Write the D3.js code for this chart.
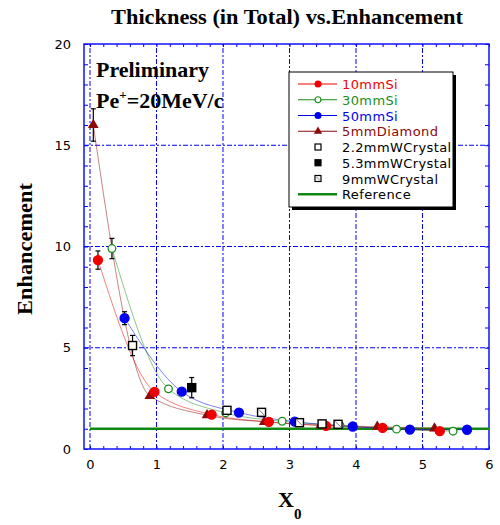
<!DOCTYPE html>
<html>
<head>
<meta charset="utf-8">
<script src="https://cdn.jsdelivr.net/npm/d3@7"></script>
<style>
body { margin: 0; background: #fff; }
</style>
</head>
<body>
<div id="chart"></div>
<script>
var w = 500, h = 525;

// data
var si10X = [0.12, 0.97, 1.83, 2.69, 3.55, 4.40, 5.26];
var si10Y = [9.33, 2.82, 1.70, 1.34, 1.14, 1.04, 0.88];
var si10Err = [0.45, 0, 0, 0, 0, 0, 0];

var si30X = [0.33, 1.18, 2.04, 2.89, 3.76, 4.61, 5.46];
var si30Y = [9.90, 2.97, 1.78, 1.37, 1.16, 0.98, 0.88];
var si30Err = [0.5, 0, 0, 0, 0, 0, 0];

var si50X = [0.52, 1.38, 2.24, 3.08, 3.95, 4.81, 5.67];
var si50Y = [6.46, 2.83, 1.80, 1.35, 1.11, 0.96, 0.95];
var si50Err = [0.32, 0, 0, 0, 0, 0, 0];

var diaX = [0.05, 0.90, 1.76, 2.62, 3.47, 4.32, 5.18];
var diaY = [16.0, 2.62, 1.67, 1.34, 1.18, 1.10, 1.02];
var diaErr = [0.8, 0, 0, 0, 0, 0, 0];

var w22X = [0.64, 2.06, 3.49];
var w22Y = [5.11, 1.91, 1.24];
var w22Err = [0.5, 0, 0];

var w53X = [1.53];
var w53Y = [3.03];
var w53Err = [0.5];

var w9X = [2.58, 3.15, 3.73];
var w9Y = [1.81, 1.30, 1.22];
var w9Err = [0, 0, 0];

var refY = 1;

var xTicks = [0, 1, 2, 3, 4, 5, 6];
var yTicks = [0, 5, 10, 15, 20];
var legendNames = ["10mmSi", "30mmSi", "50mmSi", "5mmDiamond", "2.2mmWCrystal", "5.3mmWCrystal", "9mmWCrystal", "Reference"];

var red = "#ee0000", green = "#1a8c1a", blue = "#0000ee", brown = "#8b0a0a";

var x = d3.scaleLinear().domain([-0.09, 6]).range([84, 489]);
var y = d3.scaleLinear().domain([0, 20]).range([449, 44]);

var svg = d3.select("#chart").append("svg")
    .attr("width", w)
    .attr("height", h);

// grid
var gridX = xTicks.filter(function(d) { return d < 6; });
svg.append("g").selectAll("line")
    .data(gridX).enter().append("line")
    .attr("x1", function(d) { return x(d); })
    .attr("x2", function(d) { return x(d); })
    .attr("y1", y(0)).attr("y2", y(20))
    .attr("stroke", "#0000ff").attr("stroke-width", 1)
    .attr("stroke-dasharray", "5,2,2,2");
svg.append("g").selectAll("line")
    .data([5, 10, 15]).enter().append("line")
    .attr("x1", x.range()[0]).attr("x2", x.range()[1])
    .attr("y1", function(d) { return y(d); })
    .attr("y2", function(d) { return y(d); })
    .attr("stroke", "#0000ff").attr("stroke-width", 1)
    .attr("stroke-dasharray", "5,2,2,2");

// minor ticks, inward on all four sides
var xMinor = d3.range(0, 30.5, 1).map(function(d) { return d / 5; }).filter(function(d) { return d <= 6; });
var yMinor = d3.range(0, 21, 1);
function noLabels(g) { g.selectAll("text").remove(); g.select(".domain").remove(); g.selectAll("line").attr("stroke", "#0000ff"); }
svg.append("g").attr("transform", "translate(0," + y(0) + ")")
    .call(d3.axisBottom(x).tickValues(xMinor).tickSizeInner(-3).tickSizeOuter(0)).call(noLabels);
svg.append("g").attr("transform", "translate(0," + y(20) + ")")
    .call(d3.axisTop(x).tickValues(xMinor).tickSizeInner(-3).tickSizeOuter(0)).call(noLabels);
svg.append("g").attr("transform", "translate(" + x.range()[0] + ",0)")
    .call(d3.axisLeft(y).tickValues(yMinor).tickSizeInner(-4).tickSizeOuter(0)).call(noLabels);
svg.append("g").attr("transform", "translate(" + x.range()[1] + ",0)")
    .call(d3.axisRight(y).tickValues(yMinor).tickSizeInner(-4).tickSizeOuter(0)).call(noLabels);

// tick labels
var xAxis = svg.append("g").attr("transform", "translate(0," + (y(0) + 8) + ")")
    .call(d3.axisBottom(x).tickValues(xTicks).tickSize(0).tickFormat(d3.format("d")));
xAxis.select(".domain").remove();
xAxis.selectAll("text").attr("font-family", "DejaVu Sans").attr("font-size", 13).attr("fill", "#000");
var yAxis = svg.append("g").attr("transform", "translate(" + (x.range()[0] - 10) + ",0)")
    .call(d3.axisLeft(y).tickValues(yTicks).tickSize(0).tickFormat(d3.format("d")));
yAxis.select(".domain").remove();
yAxis.selectAll("text").attr("font-family", "DejaVu Sans").attr("font-size", 13).attr("fill", "#000");

// frame
svg.append("rect")
    .attr("x", x.range()[0]).attr("y", y(20))
    .attr("width", x.range()[1] - x.range()[0])
    .attr("height", y(0) - y(20))
    .attr("fill", "none").attr("stroke", "#1010ff").attr("stroke-width", 1.5);

// reference line
svg.append("line")
    .attr("x1", x(0)).attr("x2", x(6))
    .attr("y1", y(refY)).attr("y2", y(refY))
    .attr("stroke", "#118811").attr("stroke-width", 2.5);

var plot = svg.append("g");

function pts(xs, ys, es) {
    return xs.map(function(d, i) { return {x: d, y: ys[i], e: es[i]}; });
}
var line = d3.line()
    .x(function(d) { return x(d.x); })
    .y(function(d) { return y(d.y); })
    .curve(d3.curveMonotoneX);

var fits = [
    {data: pts(si10X, si10Y, si10Err), color: red},
    {data: pts(si30X, si30Y, si30Err), color: green},
    {data: pts(si50X, si50Y, si50Err), color: blue},
    {data: pts(diaX, diaY, diaErr), color: brown}
];
fits.forEach(function(f) {
    plot.append("path").datum(f.data)
        .attr("d", line)
        .attr("fill", "none")
        .attr("stroke", f.color)
        .attr("stroke-opacity", 0.5)
        .attr("stroke-width", 1);
});

// error bars
function errBars(data) {
    var g = plot.append("g");
    var eb = data.filter(function(d) { return d.e > 0; });
    g.selectAll(".v").data(eb).enter().append("line")
        .attr("x1", function(d) { return x(d.x); }).attr("x2", function(d) { return x(d.x); })
        .attr("y1", function(d) { return y(d.y - d.e); }).attr("y2", function(d) { return y(d.y + d.e); })
        .attr("stroke", "#000").attr("stroke-width", 1.2);
    [1, -1].forEach(function(s) {
        g.selectAll(".c" + s).data(eb).enter().append("line")
            .attr("x1", function(d) { return x(d.x) - 2.5; }).attr("x2", function(d) { return x(d.x) + 2.5; })
            .attr("y1", function(d) { return y(d.y + s * d.e); }).attr("y2", function(d) { return y(d.y + s * d.e); })
            .attr("stroke", "#000").attr("stroke-width", 1.2);
    });
}
var sq1 = pts(w22X, w22Y, w22Err), sq2 = pts(w53X, w53Y, w53Err), sq3 = pts(w9X, w9Y, w9Err);
fits.forEach(function(f) { errBars(f.data); });
errBars(sq1); errBars(sq2); errBars(sq3);

// markers
function circles(data, fill, stroke) {
    plot.append("g").selectAll("circle").data(data).enter().append("circle")
        .attr("cx", function(d) { return x(d.x); })
        .attr("cy", function(d) { return y(d.y); })
        .attr("r", fill === "#fff" ? 3.8 : 4.5)
        .attr("fill", fill).attr("stroke", stroke).attr("stroke-width", 1.3);
}
function triangles(data, color) {
    plot.append("g").selectAll("path").data(data).enter().append("path")
        .attr("transform", function(d) { return "translate(" + x(d.x) + "," + y(d.y) + ")"; })
        .attr("d", d3.symbol().type(d3.symbolTriangle).size(50))
        .attr("fill", color);
}
function squares(data, fill, hatch) {
    var g = plot.append("g").selectAll("g").data(data).enter().append("g")
        .attr("transform", function(d) { return "translate(" + x(d.x) + "," + y(d.y) + ")"; });
    g.append("rect").attr("x", -4).attr("y", -4).attr("width", 8).attr("height", 8)
        .attr("fill", fill).attr("stroke", "#000").attr("stroke-width", 1.4);
    if (hatch) {
        g.append("line").attr("x1", -3).attr("y1", -3).attr("x2", 3).attr("y2", 3)
            .attr("stroke", "#777").attr("stroke-width", 1);
    }
}
triangles(fits[3].data, brown);
circles(fits[0].data, red, red);
circles(fits[1].data, "#fff", green);
circles(fits[2].data, blue, blue);
squares(sq1, "#fff", false);
squares(sq2, "#000", false);
squares(sq3, "#fff", true);

// title and labels
svg.append("text")
    .attr("x", 287).attr("y", 24)
    .attr("text-anchor", "middle")
    .attr("font-family", "Liberation Serif").attr("font-weight", "bold").attr("font-size", 21)
    .attr("textLength", 352).attr("lengthAdjust", "spacingAndGlyphs")
    .text("Thickness (in Total) vs.Enhancement");
svg.append("text")
    .attr("transform", "translate(32,249) rotate(-90)")
    .attr("text-anchor", "middle")
    .attr("font-family", "Liberation Serif").attr("font-weight", "bold").attr("font-size", 20)
    .attr("textLength", 132).attr("lengthAdjust", "spacingAndGlyphs")
    .text("Enhancement");
var xl = svg.append("text")
    .attr("x", 278).attr("y", 507)
    .attr("font-family", "Liberation Serif").attr("font-weight", "bold").attr("font-size", 22);
xl.append("tspan").text("X");
xl.append("tspan").attr("dy", 12).attr("font-size", 15).text("0");

svg.append("text")
    .attr("x", 96).attr("y", 77)
    .attr("font-family", "Liberation Serif").attr("font-weight", "bold").attr("font-size", 22)
    .attr("textLength", 113).attr("lengthAdjust", "spacingAndGlyphs")
    .text("Preliminary");
var pe = svg.append("text")
    .attr("x", 96).attr("y", 108)
    .attr("font-family", "Liberation Serif").attr("font-weight", "bold").attr("font-size", 22);
pe.append("tspan").text("Pe");
pe.append("tspan").attr("dy", -9).attr("font-size", 13).text("+");
pe.append("tspan").attr("dy", 9).text("=20MeV/c");

// legend
var lg = svg.append("g");
lg.append("rect").attr("x", 292).attr("y", 75).attr("width", 164).attr("height", 135).attr("fill", "#000");
lg.append("rect").attr("x", 289).attr("y", 72).attr("width", 164).attr("height", 135)
    .attr("fill", "#fff").attr("stroke", "#000").attr("stroke-width", 1);
var legColors = [red, green, blue, brown, "#000", "#000", "#000", "#000"];
legendNames.forEach(function(name, i) {
    var yy = 84 + i * 15.75;
    if (i < 4 || i === 7) {
        lg.append("line").attr("x1", 298).attr("x2", 337).attr("y1", yy).attr("y2", yy)
            .attr("stroke", i === 7 ? "#118811" : legColors[i]).attr("stroke-width", i === 7 ? 2.5 : 1.2);
    }
    var m = lg.append("g").attr("transform", "translate(318," + yy + ")");
    if (i === 0 || i === 2) m.append("circle").attr("r", 3.5).attr("fill", legColors[i]);
    if (i === 1) m.append("circle").attr("r", 3).attr("fill", "#fff").attr("stroke", green).attr("stroke-width", 1.2);
    if (i === 3) m.append("path").attr("d", d3.symbol().type(d3.symbolTriangle).size(30)).attr("fill", brown);
    if (i >= 4 && i <= 6) {
        m.append("rect").attr("x", -3).attr("y", -3).attr("width", 6).attr("height", 6)
            .attr("fill", i === 5 ? "#000" : "#fff").attr("stroke", "#000").attr("stroke-width", 1.2);
        if (i === 6) m.append("line").attr("x1", -2).attr("y1", -2).attr("x2", 2).attr("y2", 2).attr("stroke", "#777");
    }
    lg.append("text").attr("x", 342).attr("y", yy + 5)
        .attr("font-family", "DejaVu Sans").attr("font-size", 13).attr("letter-spacing", 0.4)
        .attr("fill", i < 4 ? legColors[i] : "#000")
        .text(name);
});
</script>
</body>
</html>
